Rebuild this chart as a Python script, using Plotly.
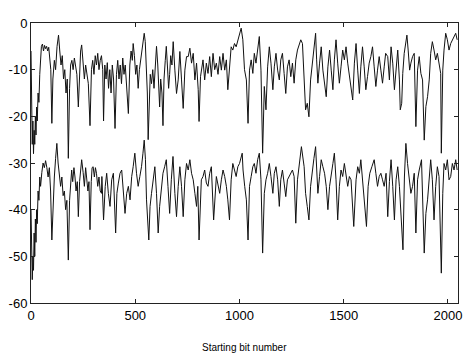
import plotly.graph_objects as go

# Upper trace (bit position, value in dB)
top_bits = [0, 3, 6, 9, 12, 15, 18, 21, 24, 27, 30, 34, 38, 42, 46, 50, 55, 60, 65, 70, 75, 80, 85, 90, 95,
            100, 105, 112, 118, 125, 132, 138, 144, 150, 156, 162, 168, 174, 179, 185, 190, 196, 202, 208, 213,
            220, 227, 233, 238, 243, 250, 256, 262, 268, 275, 283, 290, 296, 302, 308, 314, 320, 326, 332,
            338, 344, 348, 354, 360, 366, 372, 378, 384, 390, 396, 403, 410, 416, 422, 428, 434, 440, 446, 452,
            458, 467, 474, 480, 486, 490, 496, 502, 508, 514, 520, 526, 532, 538, 543, 548, 553, 558, 562, 567,
            572, 578, 584, 590, 596, 602, 608, 613, 617, 622, 628, 633, 638, 644, 649, 654, 660, 665, 670, 676,
            682, 690, 698, 706, 714, 722, 730, 738, 746, 754, 762, 770, 778, 786, 794, 802, 806, 813, 825, 833,
            841, 849, 857, 865, 873, 881, 889, 897, 905, 913, 921, 929, 937, 944, 952, 960, 968, 976, 984, 992,
            1000, 1008, 1016, 1024, 1033, 1041, 1048, 1056, 1064, 1071, 1079, 1087, 1095, 1103, 1111, 1119, 1127,
            1135, 1143, 1151, 1160, 1167, 1175, 1183, 1191, 1198, 1206, 1214, 1222, 1230, 1238, 1246, 1254, 1262,
            1270, 1278, 1286, 1294, 1302, 1310, 1317, 1325, 1333, 1341, 1349, 1357, 1365,
            1370, 1376, 1384, 1392, 1400, 1408, 1416, 1424, 1432, 1440, 1448, 1455, 1463, 1471, 1479, 1487, 1495,
            1503, 1511, 1519, 1527, 1535, 1543, 1551, 1559, 1567, 1575, 1582, 1590, 1598, 1606, 1614, 1622, 1630,
            1638, 1646, 1654, 1662, 1670, 1678, 1686, 1694, 1701,
            1711, 1719, 1727, 1735, 1743, 1751, 1759, 1767, 1771, 1778, 1783, 1790, 1798, 1803, 1809, 1816, 1822,
            1830, 1838, 1846, 1854, 1862, 1870, 1878, 1886, 1894, 1902, 1910, 1917, 1925, 1933, 1941, 1949, 1957,
            1965, 1968, 1975, 1981, 1989, 1997, 2005, 2013, 2021, 2029, 2037, 2044]
top_vals = [-6, -20, -26, -21, -28, -23, -26, -20, -24, -18, -21, -15, -17, -11, -8, -5, -4.5, -6, -4.8, -5.5, -5, -6, -5.2, -7, -10,
            -21.5, -12, -8, -10, -5, -2.6, -6, -9, -7, -12, -10, -15, -12, -29, -14, -9, -8, -10, -7.5, -9,
            -11, -18, -9, -6, -4.7, -8, -12, -9, -10.5, -13, -22, -10, -8, -11, -7, -9, -6.5, -10, -8,
            -7, -10, -21, -9, -12, -8.5, -14, -10, -15, -9, -12, -22.6, -11, -8, -12, -9, -13, -7.5, -11, -9,
            -13, -19.4, -9, -6, -8, -4.4, -7, -11, -9, -14, -10, -8, -5, -3.5, -2.2, -4, -9, -15, -25, -16,
            -11, -13, -10, -14, -8, -5, -9, -13, -18, -12, -15, -22, -12, -8, -5, -9, -14, -11, -7, -9,
            -4.0, -10.1, -15.1, -12.2, -6.1, -12.2, -18.3, -10.1, -7.2, -7.2, -5.4, -8.6, -6.5, -12.2, -8.6, -14.3, -21.1, -11.5, -7.9, -12.2,
            -8.6, -10.8, -7.2, -11.5, -6.5, -10, -8.6, -11, -7.2, -10.1, -6.5, -10.1, -7.9, -14.3, -8.6, -5.1, -5.8, -4.4, -5.1, -3.6,
            -2.2, -1.1, -3.6, -10, -12.2, -21.5, -10.1, -7.9, -10.8, -6.5, -8.6, -5.8, -2.9, -10.1, -27.9, -13.6, -18.6,
            -9.4, -5.1, -8.6, -14.3, -9.4, -6.5, -10.1, -12.2, -7.9, -6.5, -10.8, -15.1, -9.4, -7.9, -11.5, -8.6, -12.9,
            -7.9, -5.8, -4.4, -3.6, -4.4, -10.8, -18.6, -17.2, -20.1, -12.2, -8.6, -6.5, -2.2,
            -7.9, -12.9, -8.6, -5.1, -10.1, -13.6, -15.8, -9.4, -5.8, -10.1, -14.3, -7.9, -3.6, -8.6, -12.9, -9.4, -5.8,
            -7.9, -5.1, -8.6, -11.5, -13.6, -16.5, -8.6, -4.4, -10.1, -15.1, -9.4, -5.1, -9.4, -14.3, -11.5, -8.6, -7.2,
            -5.1, -9.4, -13.6, -10.1, -7.2, -10.1, -12.9, -9.4, -6.5,
            -7.2, -12.2, -5.1, -8.6, -14.3, -10.1, -5.8, -12.2, -18.6, -17.2, -10.8, -6.5, -4.4, -2.6, -5.8, -10.1, -8.6,
            -7.2, -6.5, -22.2, -10.1, -7.2, -10.8, -12.2, -25.1, -17.9, -15.8, -12.2, -6.5, -4.0, -5.8, -7.9, -6.5, -8.6,
            -10.8, -27.9, -10.1, -5.8, -2.2, -3.6, -5.8, -4.4, -3.6, -2.9, -2.2, -3.6]

# Lower trace (bit position, value in dB)
bot_bits = [0, 3, 6, 9, 12, 15, 18, 21, 24, 27, 30, 34, 38, 42, 46, 52, 58, 64, 70, 76, 82, 88, 94, 100, 106,
            112, 118, 124, 130, 136, 142, 148, 154, 160, 166, 172, 179, 185, 190, 195, 200, 206, 211, 216, 222,
            227, 233, 238, 243, 250, 256, 262, 267, 273, 278, 283, 289, 293, 298, 304, 309, 314, 320, 326, 332, 338,
            340, 348, 356, 363, 371, 379, 387, 395, 406, 412, 419, 427, 435, 443, 451, 459, 467, 475, 483, 490,
            498, 506, 514, 522, 530, 537, 543, 549, 554, 565, 571, 578, 586, 594, 602, 610, 617, 625, 633, 641,
            649, 657, 665, 673, 681,
            690, 698, 706, 714, 722, 730, 738, 746, 754, 762, 770, 778, 786, 794, 800, 806, 817, 825, 833, 841,
            849, 857, 865, 876, 889, 897, 905, 913, 921, 929, 937, 944, 952, 960, 968, 976, 984, 992, 1000, 1013,
            1017, 1025, 1033, 1041, 1048, 1056, 1064, 1071, 1079, 1087, 1095, 1103, 1111, 1119, 1127, 1135, 1143,
            1151, 1160, 1167, 1175, 1183, 1191, 1198, 1206, 1214, 1222, 1230, 1238, 1246, 1254, 1262, 1270, 1278,
            1286, 1297, 1310, 1317, 1325, 1333, 1341, 1349, 1357, 1365,
            1372, 1376, 1384, 1392, 1400, 1408, 1416, 1424, 1432, 1440, 1448, 1455, 1463, 1471, 1479, 1487, 1495,
            1503, 1511, 1519, 1527, 1535, 1548, 1559, 1567, 1575, 1582, 1590, 1598, 1609, 1617, 1625, 1635, 1646,
            1654, 1662, 1670, 1678, 1686, 1694, 1703, 1711, 1719, 1727, 1735, 1743, 1751, 1759, 1767, 1775, 1784,
            1791, 1798, 1806, 1814, 1822, 1830, 1838, 1846, 1854, 1862, 1873, 1886, 1894, 1902, 1910, 1917, 1925,
            1933, 1941, 1949, 1957, 1968, 1975, 1981, 1989, 1997, 2005, 2013, 2021, 2029, 2037, 2044]
bot_vals = [-40, -48, -55, -50, -53, -45, -50, -42, -47, -40, -43, -36, -38, -33, -35, -32, -30, -31, -29.5, -31, -33, -31, -36, -46.5, -37,
            -33, -29, -25.8, -30, -32, -35, -33, -37, -36, -40, -38, -50.8, -38, -33, -31.5, -34, -31, -33, -36, -34,
            -41.5, -34, -31, -29.3, -32, -35, -31, -33, -36, -34, -44.3, -34, -31, -30.8, -33, -31, -32.2, -35, -33, -36, -36.5,
            -32.9, -42.2, -35.0, -32.2, -36.5, -39.3, -33.6, -32.2, -45.0, -36.5, -34.3, -32.2, -31.5, -36.5, -40.8, -36.5, -35.0, -37.9, -32.9, -30.8,
            -27.9, -32.2, -35.0, -32.9, -30.8, -27.9, -25.1, -29.3, -37.9, -46.5, -39.3, -36.5, -33.6, -30.8, -36.5, -45.0, -39.3, -35.0, -32.2, -30.8,
            -29.3, -35.0, -40.8, -33.6, -28.6,
            -36.5, -41.5, -35.0, -30.8, -35.0, -41.5, -33.6, -30.1, -31.5, -29.3, -32.2, -33.6, -36.5, -39.3, -35.0, -46.5, -33.6, -32.9, -31.5, -34.3,
            -35.0, -32.2, -30.8, -42.2, -32.9, -35.0, -36.5, -33.6, -31.5, -32.9, -35.0, -37.9, -42.2, -33.6, -30.1, -31.5, -32.9, -30.8, -30.1, -27.9,
            -31.5, -35.0, -37.9, -46.5, -35.0, -32.9, -30.8, -30.1, -32.2, -29.3, -27.9, -33.6, -49.3, -36.5, -33.6, -32.2, -30.1,
            -32.9, -36.5, -32.2, -30.8, -33.6, -39.3, -33.6, -31.5, -34.3, -37.2, -33.6, -32.9, -32.2, -31.5, -32.9, -42.9, -33.6,
            -30.1, -26.5, -30.8, -36.5, -39.3, -42.2, -35.0, -31.5, -29.0, -26.5,
            -31.5, -36.5, -32.9, -29.3, -30.8, -32.2, -35.0, -40.0, -35.0, -32.9, -30.1, -27.9, -33.6, -42.2, -35.0, -31.5, -32.9,
            -30.1, -32.2, -35.0, -32.9, -33.6, -43.6, -33.6, -30.8, -32.2, -29.3, -33.6, -36.5, -43.6, -35.0, -32.2, -30.8, -29.3,
            -32.2, -35.0, -32.9, -32.2, -33.6, -35.0, -32.2, -41.5, -34.0, -29.3, -35.0, -42.2, -33.6, -30.8, -35.0, -40.8, -48.6,
            -33.0, -25.8, -30.1, -33.6, -36.5, -35.0, -32.2, -45.0, -33.6, -31.5, -29.3, -49.3, -40.8, -37.9, -33.6, -29.3, -33.6,
            -42.2, -35.0, -30.8, -32.9, -53.6, -36.5, -30.1, -31.5, -29.3, -33.6, -32.9, -30.1, -31.5, -29.3, -31.5]

x_ticks = [0, 500, 1000, 1500, 2000]
x_tick_text = ["0", "500", "1000", "1500", "2000"]
y_ticks = [0, -10, -20, -30, -40, -50, -60]
y_tick_text = ["0", "-10", "-20", "-30", "-40", "-50", "-60"]
x_title = "Starting bit number"

line_style = dict(color="#111111", width=1.0)

fig = go.Figure()
fig.add_trace(go.Scatter(x=top_bits, y=top_vals, mode="lines", line=line_style, showlegend=False))
fig.add_trace(go.Scatter(x=bot_bits, y=bot_vals, mode="lines", line=line_style, showlegend=False))

axis_common = dict(
    showgrid=False, zeroline=False, showline=True, linecolor="#222", linewidth=1,
    mirror="ticks", ticks="inside", ticklen=4, tickcolor="#222",
    tickfont=dict(family="Liberation Sans, Arial", size=13, color="#000"),
    ticklabeloverflow="allow",
)
fig.update_xaxes(range=[0, 2048], tickvals=x_ticks, ticktext=x_tick_text, **axis_common)
fig.update_yaxes(range=[-60, 0], tickvals=y_ticks, ticktext=y_tick_text, **axis_common)

fig.add_annotation(text=x_title, xref="paper", yref="paper", x=0.5, y=-0.16,
                   xanchor="center", yanchor="middle", showarrow=False,
                   font=dict(family="Liberation Sans, Arial", size=10, color="#000"))

fig.update_layout(
    width=466, height=356,
    margin=dict(l=31, r=4, t=23, b=53),
    plot_bgcolor="white", paper_bgcolor="white",
)

fig.write_html("out.html")
